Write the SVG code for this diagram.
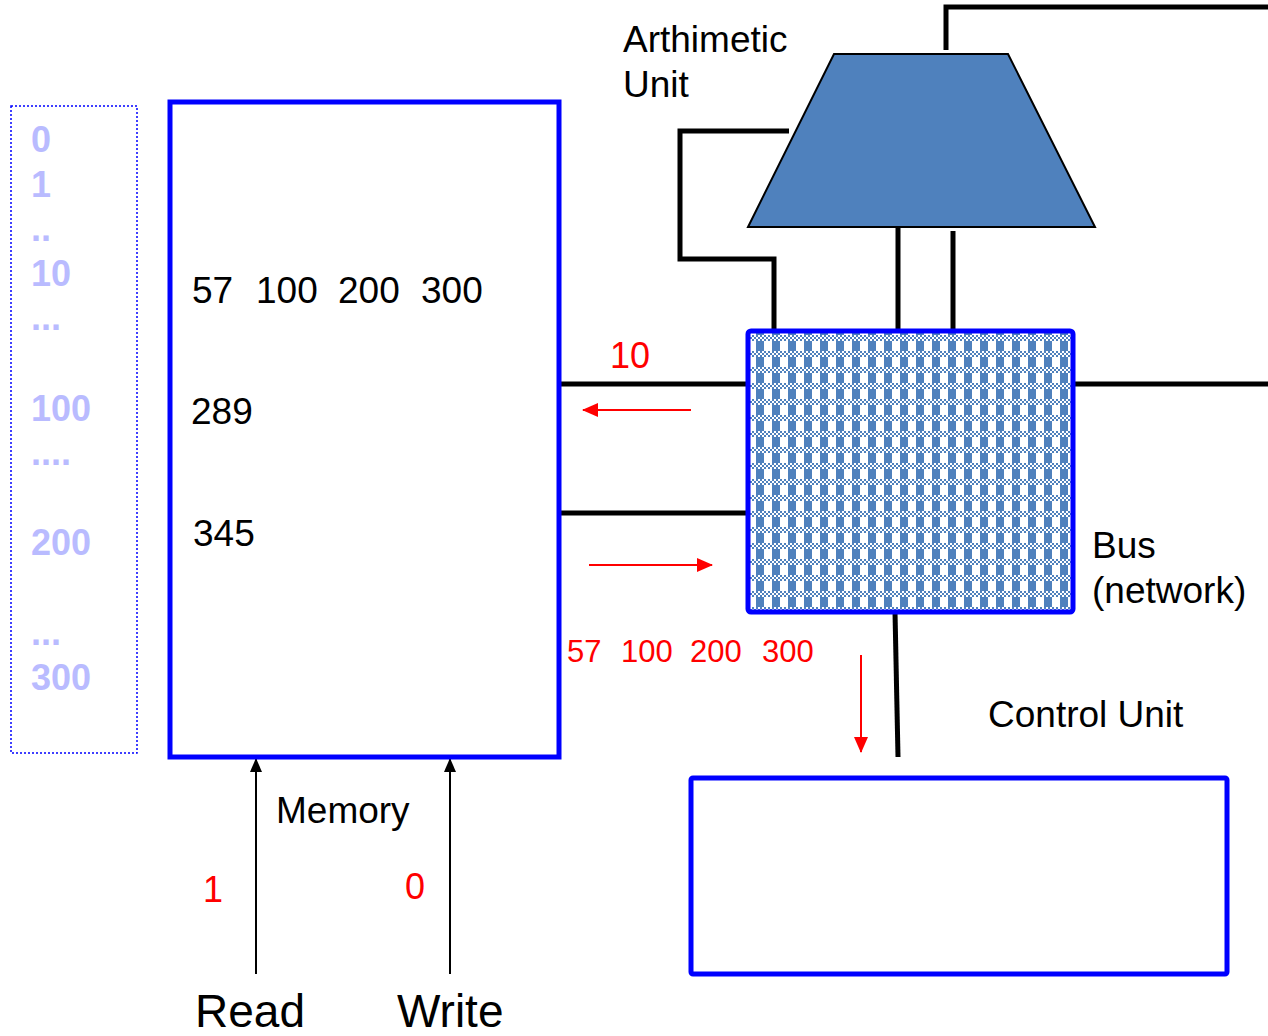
<svg xmlns="http://www.w3.org/2000/svg" width="1268" height="1036" viewBox="0 0 1268 1036">
<style>
.lbl{font-family:"Liberation Sans",Arial,sans-serif;font-size:37px;fill:#000}
.red{font-family:"Liberation Sans",Arial,sans-serif;fill:#ff0000}
.addr{font-family:"Liberation Sans",Arial,sans-serif;font-size:36px;font-weight:bold;fill:#b9bbff}
.wire{stroke:#000;stroke-width:5;fill:none}
.box{stroke:#0000ff;stroke-width:5;fill:#fff}
.rarrow{stroke:#ff0000;stroke-width:2;fill:none}
.karrow{stroke:#000;stroke-width:2;fill:none}
</style>
<defs>
<pattern id="chk" x="752" y="335" width="16" height="16" patternUnits="userSpaceOnUse">
<rect width="16" height="16" fill="#fff"/>
<path d="M0 0h2v2h-2zM4 0h2v2h-2zM8 0h2v2h-2zM12 0h2v2h-2zM2 2h2v2h-2zM6 2h2v2h-2zM10 2h2v2h-2zM14 2h2v2h-2zM0 4h2v2h-2zM4 4h2v2h-2zM8 4h2v2h-2zM12 4h2v2h-2z" fill="#4f81bd"/>
<rect x="4" y="6" width="8" height="10" fill="#4f81bd"/>
</pattern>
<marker id="rb" markerWidth="16" markerHeight="14" refX="15" refY="7" orient="auto" markerUnits="userSpaceOnUse">
<path d="M0 0L16 7L0 14z" fill="#ff0000"/>
</marker>
<marker id="kb" markerWidth="14" markerHeight="12" refX="13" refY="6" orient="auto" markerUnits="userSpaceOnUse">
<path d="M0 0L14 6L0 12z" fill="#000"/>
</marker>
</defs>

<g id="address-list">
<rect x="11" y="106" width="126" height="647" fill="none" stroke="#0000ff" stroke-width="1.5" stroke-dasharray="2 2"/>
<text class="addr" x="31" y="152">0</text>
<text class="addr" x="31" y="197">1</text>
<text class="addr" x="31" y="241">..</text>
<text class="addr" x="31" y="286">10</text>
<text class="addr" x="31" y="330">...</text>
<text class="addr" x="31" y="421">100</text>
<text class="addr" x="31" y="465">....</text>
<text class="addr" x="31" y="555">200</text>
<text class="addr" x="31" y="645">...</text>
<text class="addr" x="31" y="690">300</text>
</g>

<g id="connectors">
<line class="wire" x1="559" y1="384" x2="750" y2="384"/>
<line class="wire" x1="559" y1="513" x2="750" y2="513"/>
<line class="wire" x1="1071" y1="384" x2="1268" y2="384"/>
<line class="wire" x1="895" y1="612" x2="898" y2="757"/>
<path class="wire" d="M946 50V7H1268"/>
<path class="wire" d="M789 131H680V259H774V331"/>
<line class="wire" x1="898" y1="227" x2="898" y2="331"/>
<line class="wire" x1="953" y1="231" x2="953" y2="331"/>
<line class="rarrow" x1="691" y1="410" x2="583" y2="410" marker-end="url(#rb)"/>
<line class="rarrow" x1="589" y1="565" x2="712" y2="565" marker-end="url(#rb)"/>
<line class="rarrow" x1="861" y1="655" x2="861" y2="752" marker-end="url(#rb)"/>
<line class="karrow" x1="256" y1="974" x2="256" y2="759" marker-end="url(#kb)"/>
<line class="karrow" x1="450" y1="974" x2="450" y2="759" marker-end="url(#kb)"/>
</g>

<g id="memory">
<rect class="box" x="170" y="102" width="389" height="655"/>
<text class="lbl" x="192" y="303">57</text>
<text class="lbl" x="256" y="303">100</text>
<text class="lbl" x="338" y="303">200</text>
<text class="lbl" x="421" y="303">300</text>
<text class="lbl" x="191" y="424">289</text>
<text class="lbl" x="193" y="546">345</text>
<text class="lbl" x="276" y="823">Memory</text>
</g>

<g id="arithmetic-unit">
<polygon points="834,54 1008,54 1095,227 748,227" fill="#4f81bd" stroke="#000" stroke-width="2"/>
<text class="lbl" x="623" y="52">Arthimetic</text>
<text class="lbl" x="623" y="97">Unit</text>
</g>

<g id="bus">
<rect x="748" y="331" width="325" height="281" rx="3" fill="url(#chk)" stroke="#0000ff" stroke-width="5"/>
<text class="lbl" x="1092" y="558">Bus</text>
<text class="lbl" x="1092" y="603">(network)</text>
</g>

<g id="control-unit">
<rect class="box" x="691" y="778" width="536" height="196" rx="2"/>
<text class="lbl" x="988" y="727">Control Unit</text>
</g>

<g id="signals">
<text class="red" x="610" y="368" font-size="36">10</text>
<text class="red" x="567" y="662" font-size="31">57</text>
<text class="red" x="621" y="662" font-size="31">100</text>
<text class="red" x="690" y="662" font-size="31">200</text>
<text class="red" x="762" y="662" font-size="31">300</text>
<text class="red" x="203" y="902" font-size="36">1</text>
<text class="red" x="405" y="899" font-size="36">0</text>
<text class="lbl" x="195" y="1027" style="font-size:46px">Read</text>
<text class="lbl" x="397" y="1027" style="font-size:46px">Write</text>
</g>
</svg>
